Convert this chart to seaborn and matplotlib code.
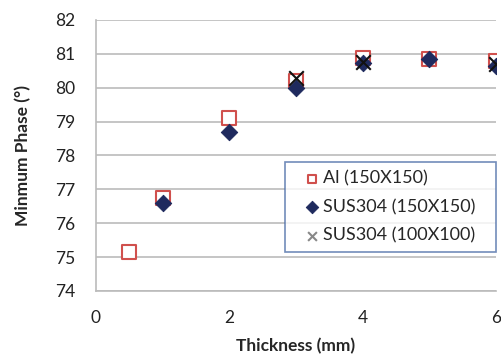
import pandas as pd
import numpy as np
import matplotlib.pyplot as plt
import seaborn as sns

# data
al_x = [0.5, 1, 2, 3, 4, 5, 6]
al_y = [75.15, 76.75, 79.1, 80.2, 80.88, 80.85, 80.78]
sus150_x = [1, 2, 3, 4, 5, 6]
sus150_y = [76.6, 78.7, 80.0, 80.73, 80.85, 80.65]
sus100_x = [3, 4, 6]
sus100_y = [80.3, 80.75, 80.7]

sns.set_style("white")
plt.rcParams['font.family'] = ['Lato', 'DejaVu Sans']

fig = plt.figure(figsize=(5.01, 3.57), dpi=100)
ax = fig.add_axes([0.1916, 0.185, 0.7984, 0.759])

sns.scatterplot(x=al_x, y=al_y, marker='s', s=110, facecolor='white',
                edgecolor='#D0504D', linewidth=1.5, label='Al (150X150)', ax=ax, zorder=3)
sns.scatterplot(x=sus150_x, y=sus150_y, marker='D', s=70, color='#1F2A5E',
                edgecolor='#1F2A5E', label='SUS304 (150X150)', ax=ax, zorder=4)
sns.scatterplot(x=sus100_x, y=sus100_y, marker='x', s=110, color='#111111',
                linewidth=1.5, label='SUS304 (100X100)', ax=ax, zorder=5)

ax.set_xlim(0, 6)
ax.set_ylim(74, 82)
ax.set_xticks([0, 2, 4, 6])
ax.set_yticks(range(74, 83))
ax.grid(axis='y', color='#BBBBBB', linewidth=1.2)
ax.set_axisbelow(True)
for s in ['top', 'right']:
    ax.spines[s].set_visible(False)
for s in ['left', 'bottom']:
    ax.spines[s].set_color('#BBBBBB')
    ax.spines[s].set_linewidth(1.2)
ax.tick_params(axis='both', direction='out', color='#BBBBBB', width=1.2,
               labelsize=12.5, labelcolor='#222222')
ax.tick_params(axis='y', length=6, pad=9)
ax.tick_params(axis='x', length=5, pad=9)

ax.set_xlabel('Thickness (mm)', fontsize=12.5, fontweight='bold', labelpad=8)
ax.set_ylabel('Minmum Phase (°)', fontsize=12.5, fontweight='bold', labelpad=17)

leg = ax.legend(loc='lower left', bbox_to_anchor=(0.4725, 0.144, 0.5275, 0.3),
                mode='expand', fontsize=13,
                frameon=True, fancybox=False, handletextpad=-0.44,
                borderpad=0.45, labelspacing=0.7, handlelength=2.1,
                borderaxespad=0)
leg.get_frame().set_edgecolor('#4F6FA8')
leg.get_frame().set_linewidth(1.2)
for h in leg.legend_handles:
    h.set_sizes([40])
leg.legend_handles[2].set_color('#888888')

fig.savefig('out.png', dpi=100)
